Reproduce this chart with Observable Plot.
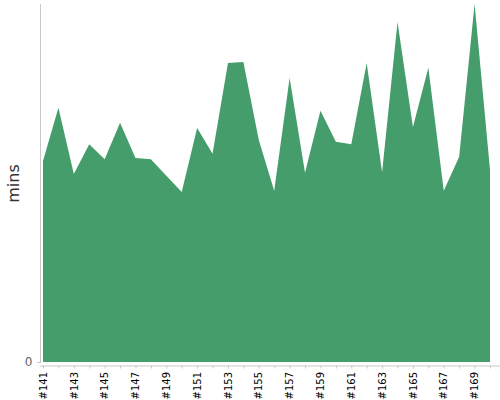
<!DOCTYPE html>
<html>
<head>
<meta charset="utf-8">
<script src="https://cdn.jsdelivr.net/npm/d3@7"></script>
<script src="https://cdn.jsdelivr.net/npm/@observablehq/plot@0.6"></script>
<style>
  body { margin: 0; background: #fff; }
  #chart svg { display: block; }
</style>
</head>
<body>
<div id="chart"></div>
<script>
const builds = ["#141","#142","#143","#144","#145","#146","#147","#148","#149","#150",
  "#151","#152","#153","#154","#155","#156","#157","#158","#159","#160",
  "#161","#162","#163","#164","#165","#166","#167","#168","#169","#170"];
const mins = [33.7, 42.6, 31.5, 36.5, 34.0, 40.1, 34.2, 34.0, 31.2, 28.5,
  39.2, 34.9, 50.1, 50.3, 37.2, 28.7, 47.6, 31.7, 42.1, 36.9,
  36.5, 50.1, 31.8, 57.0, 39.4, 49.3, 28.7, 34.4, 60.0, 32.2];
const yTicks = [0];

const data = builds.map((b, i) => ({build: b, mins: mins[i]}));

const chart = Plot.plot({
  width: 500,
  height: 400,
  marginLeft: 40,
  marginRight: 0,
  marginTop: 4,
  marginBottom: 38,
  style: {fontFamily: "'DejaVu Sans', sans-serif", background: "#fff"},
  x: {type: "point", domain: builds, insetLeft: 3, insetRight: 10, padding: 0, round: false},
  y: {domain: [0, 60], range: [362, 4]},
  marks: [
    Plot.areaY(data, {x: "build", y: "mins", fill: "#459d6b", curve: "linear"}),
    Plot.frame({anchor: "left", stroke: "#c8c8c8"}),
    Plot.ruleY([0], {dy: 3.5, stroke: "#c8c8c8"}),
    Plot.axisY({ticks: yTicks, tickSize: 3, tickPadding: 5, stroke: "#c8c8c8",
      fontSize: 12, fill: "#666", label: null}),
    Plot.axisX({tickSize: 3, dy: 3.5, stroke: "#c8c8c8", tickRotate: -90, tickPadding: 3,
      fontSize: 10, fill: "#000", label: null,
      tickFormat: (d, i) => i % 2 === 0 ? d : ""}),
    Plot.text(["mins"], {frameAnchor: "left", textAnchor: "middle", dx: -27, rotate: -90,
      fontSize: 16, fill: "#333"})
  ]
});
document.getElementById("chart").appendChild(chart);
</script>
</body>
</html>
